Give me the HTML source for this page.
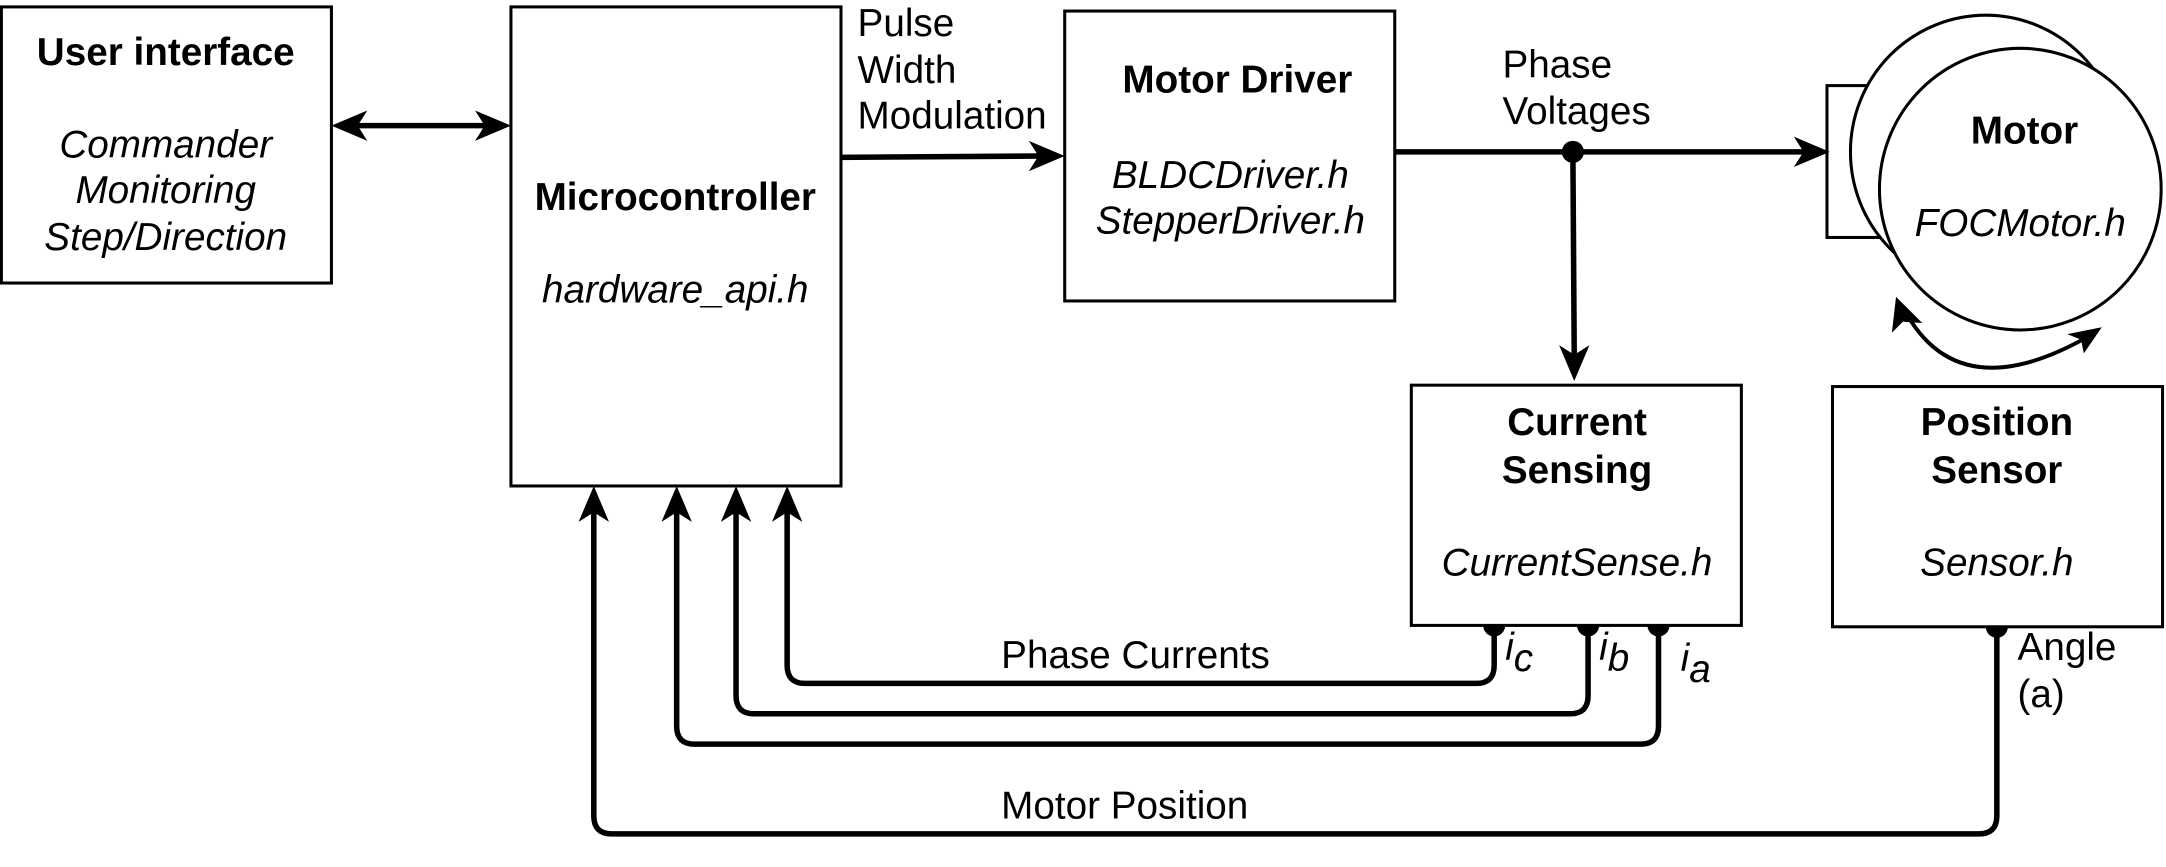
<!DOCTYPE html>
<html><head><meta charset="utf-8"><style>
html,body{margin:0;padding:0;background:#fff;}
svg{display:block;}
text{font-family:"Liberation Sans",sans-serif;fill:#000;}
</style></head><body>
<svg width="2166" height="867" viewBox="0 0 1568.5 628" preserveAspectRatio="none" xmlns="http://www.w3.org/2000/svg">
<g fill="none" stroke="#000" stroke-width="2.2">
<rect x="1" y="5" width="239" height="200"/>
<rect x="370" y="5" width="239" height="347"/>
<rect x="771" y="8" width="239" height="210"/>
<rect x="1022" y="279" width="239" height="174"/>
<rect x="1327" y="280" width="239" height="174"/>
<rect x="1323" y="62" width="40" height="110" fill="#fff"/>
<ellipse cx="1438" cy="110" rx="98" ry="99" fill="#fff"/>
<circle cx="1463" cy="137" r="102" fill="#fff"/>
</g>
<g fill="none" stroke="#000" stroke-width="4" stroke-linejoin="round">
<line x1="255" y1="91" x2="355" y2="91"/>
<path d="M608 114 L755 113"/>
<line x1="1010" y1="110" x2="1310" y2="110"/>
<line x1="1139" y1="110" x2="1140" y2="262"/>
<path d="M1082 453 V482 Q1082 495 1069 495 H583 Q570 495 570 482 V368"/>
<path d="M1150 453 V504 Q1150 517 1137 517 H546 Q533 517 533 504 V368"/>
<path d="M1201 453 V526 Q1201 539 1188 539 H503 Q490 539 490 526 V368"/>
<path d="M1446 454 V591 Q1446 604 1433 604 H443 Q430 604 430 591 V368"/>
<path d="M1381 228 Q1420 295 1510 245" stroke-width="2.8"/>
</g>
<g fill="#000">
<polygon points="240,91 266,80 259,91 266,102"/>
<polygon points="370,91 344,80 351,91 344,102"/>
<polygon points="771,113 745,102 752,113 745,124"/>
<polygon points="1325,110 1299,99 1306,110 1299,121"/>
<polygon points="1140,276 1129,250 1140,257 1151,250"/>
<polygon points="570,352 559,378 570,371 581,378"/>
<polygon points="533,352 522,378 533,371 544,378"/>
<polygon points="490,352 479,378 490,371 501,378"/>
<polygon points="430,352 419,378 430,371 441,378"/>
<polygon points="1373,215 1370,241 1378,233 1392,234"/>
<polygon points="1522,237 1497,242 1507,246 1509,256"/>
<circle cx="1139" cy="110" r="8"/>
<path d="M1074 453 A8 8 0 0 0 1090 453 Z"/>
<path d="M1142 453 A8 8 0 0 0 1158 453 Z"/>
<path d="M1193 453 A8 8 0 0 0 1209 453 Z"/>
<path d="M1438 454 A8 8 0 0 0 1454 454 Z"/>
</g>
<g font-size="28" text-anchor="middle">
<text x="120" y="47" font-weight="bold">User interface</text>
<text x="120" y="114" font-style="italic">Commander</text>
<text x="120" y="147" font-style="italic">Monitoring</text>
<text x="120" y="181" font-style="italic">Step/Direction</text>
<text x="489" y="152" font-weight="bold">Microcontroller</text>
<text x="489" y="219" font-style="italic">hardware_api.h</text>
<text x="896" y="67" font-weight="bold">Motor Driver</text>
<text x="891" y="136" font-style="italic">BLDCDriver.h</text>
<text x="891" y="169" font-style="italic">StepperDriver.h</text>
<text x="1142" y="315" font-weight="bold">Current</text>
<text x="1142" y="350" font-weight="bold">Sensing</text>
<text x="1142" y="417" font-style="italic">CurrentSense.h</text>
<text x="1446" y="315" font-weight="bold">Position</text>
<text x="1446" y="350" font-weight="bold">Sensor</text>
<text x="1446" y="417" font-style="italic">Sensor.h</text>
<text x="1466" y="104" font-weight="bold">Motor</text>
<text x="1463" y="171" font-style="italic">FOCMotor.h</text>
</g>
<g font-size="28">
<text x="621" y="26">Pulse</text>
<text x="621" y="60">Width</text>
<text x="621" y="93">Modulation</text>
<text x="1088" y="56">Phase</text>
<text x="1088" y="90">Voltages</text>
<text x="725" y="484">Phase Currents</text>
<text x="725" y="593">Motor Position</text>
<text x="1461" y="478">Angle</text>
<text x="1461" y="512">(a)</text>
<text x="1090" y="478" font-style="italic">i<tspan dy="8">c</tspan></text>
<text x="1158" y="478" font-style="italic">i<tspan dy="8">b</tspan></text>
<text x="1217" y="486" font-style="italic">i<tspan dy="8">a</tspan></text>
</g>
</svg>
</body></html>
